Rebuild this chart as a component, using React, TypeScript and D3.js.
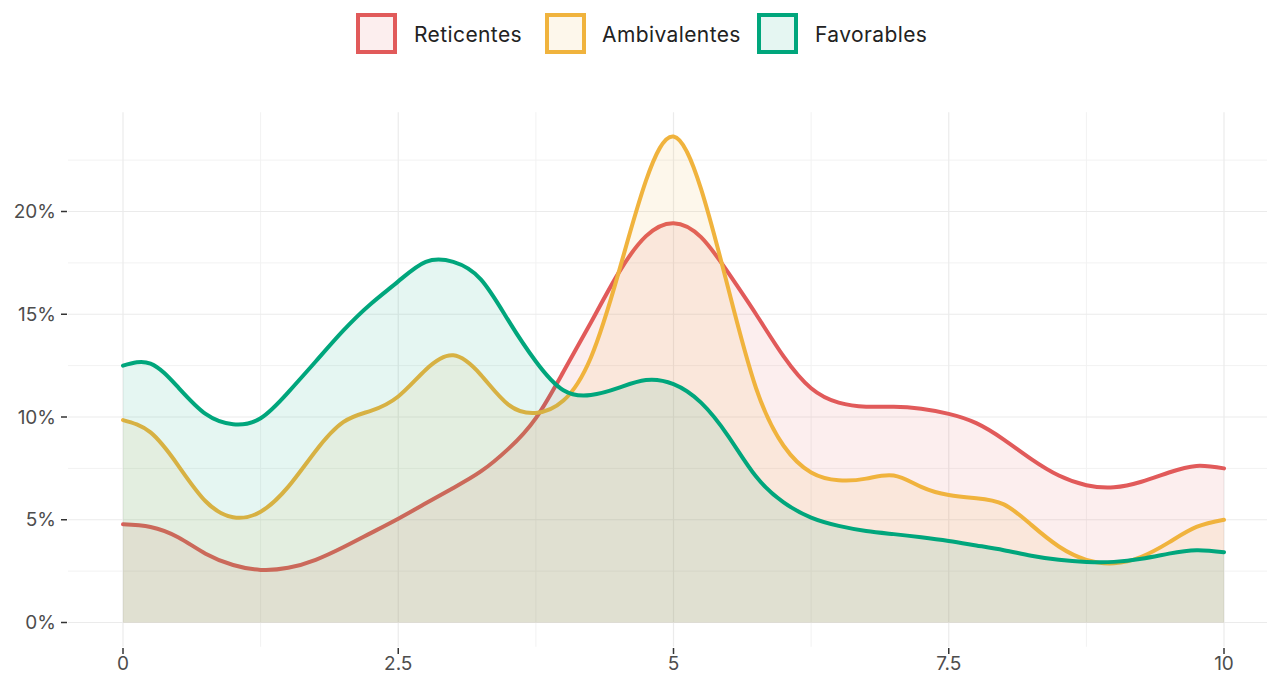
import React from "react";
import * as d3 from "d3";

const xGrid = [0,0.25,0.5,0.75,1,1.25,1.5,1.75,2,2.25,2.5,2.75,3,3.25,3.5,3.75,4,4.25,4.5,4.75,5,5.25,5.5,5.75,6,6.25,6.5,6.75,7,7.25,7.5,7.75,8,8.25,8.5,8.75,9,9.25,9.5,9.75,10];

const reticentes = [4.78,4.65,4.15,3.35,2.8,2.56,2.66,3.05,3.66,4.35,5.05,5.8,6.55,7.35,8.45,9.95,12.2,14.6,17.0,18.8,19.43,18.75,17.0,15.0,12.95,11.4,10.7,10.5,10.5,10.4,10.15,9.7,8.9,7.95,7.15,6.68,6.58,6.85,7.3,7.62,7.5];
const ambivalentes = [9.85,9.25,7.65,5.9,5.12,5.39,6.6,8.35,9.75,10.3,11.0,12.3,13.0,12.05,10.6,10.2,10.8,12.9,17.0,21.5,23.65,21.1,16.2,11.4,8.6,7.3,6.92,7.0,7.15,6.6,6.2,6.05,5.75,4.75,3.7,3.05,2.88,3.2,3.9,4.65,5.0];
const favorables = [12.5,12.6,11.45,10.15,9.65,9.94,11.2,12.7,14.2,15.5,16.6,17.55,17.55,16.7,14.7,12.7,11.3,11.07,11.42,11.8,11.6,10.7,9.05,7.1,5.85,5.1,4.7,4.45,4.3,4.15,3.97,3.75,3.52,3.25,3.05,2.95,2.95,3.1,3.35,3.52,3.42];

const seriesNames = ["Reticentes", "Ambivalentes", "Favorables"];
const seriesColors = ["#E15A5A", "#F0B33D", "#00A67C"];
const seriesValues = [reticentes, ambivalentes, favorables];

const xTicks = [0, 2.5, 5, 7.5, 10];
const xMinor = [1.25, 3.75, 6.25, 8.75];
const yTicks = [0, 5, 10, 15, 20];
const yMinor = [2.5, 7.5, 12.5, 17.5, 22.5];

const W = 1267;
const H = 674;
const FONT = "Inter, 'Open Sans', sans-serif";

export default function App() {
  const yMaxData = d3.max(seriesValues.flat()) as number;
  const x = d3.scaleLinear().domain([0, 10]).range([123, 1224]);
  const y = d3.scaleLinear().domain([0, 20]).range([622.5, 211.5]);
  const panelLeft = x(-0.5);
  const panelRight = x(10.5);
  const panelTop = y(yMaxData * 1.05);
  const panelBottom = y(-yMaxData * 0.05);

  const area = d3
    .area<number>()
    .x((_, i) => x(xGrid[i]))
    .y0(() => y(0))
    .y1((d) => y(d))
    .curve(d3.curveNatural);
  const line = d3
    .line<number>()
    .x((_, i) => x(xGrid[i]))
    .y((d) => y(d))
    .curve(d3.curveNatural);

  const legendItems = [
    { box: 356, text: 414 },
    { box: 545, text: 602 },
    { box: 757, text: 815 },
  ];

  return (
    <svg width={W} height={H} style={{ position: "absolute", left: 0, top: 0, background: "#fff" }}>
      <g>
        {yMinor.map((v) => (
          <line key={"ym" + v} x1={panelLeft} x2={panelRight} y1={y(v)} y2={y(v)} stroke="#F2F2F2" strokeWidth={1} />
        ))}
        {xMinor.map((v) => (
          <line key={"xm" + v} x1={x(v)} x2={x(v)} y1={panelTop} y2={panelBottom} stroke="#F2F2F2" strokeWidth={1} />
        ))}
        {yTicks.map((v) => (
          <line key={"yM" + v} x1={panelLeft} x2={panelRight} y1={y(v)} y2={y(v)} stroke="#EBEBEB" strokeWidth={1.2} />
        ))}
        {xTicks.map((v) => (
          <line key={"xM" + v} x1={x(v)} x2={x(v)} y1={panelTop} y2={panelBottom} stroke="#EBEBEB" strokeWidth={1.2} />
        ))}
      </g>
      {seriesValues.map((vals, i) => (
        <g key={seriesNames[i]}>
          <path d={area(vals) || ""} fill={seriesColors[i]} fillOpacity={0.1} stroke="none" />
          <path d={line(vals) || ""} fill="none" stroke={seriesColors[i]} strokeWidth={4} strokeLinecap="round" />
        </g>
      ))}
      <g fontFamily={FONT} fontSize={19} fill="#4D4D4D">
        {yTicks.map((v) => (
          <g key={"yt" + v}>
            <line x1={61} x2={67} y1={y(v)} y2={y(v)} stroke="#333" strokeWidth={1.5} />
            <text x={56} y={y(v)} textAnchor="end" dominantBaseline="central">
              {v + "%"}
            </text>
          </g>
        ))}
        {xTicks.map((v) => (
          <g key={"xt" + v}>
            <line x1={x(v)} x2={x(v)} y1={648} y2={654} stroke="#333" strokeWidth={1.5} />
            <text x={x(v)} y={663} textAnchor="middle" dominantBaseline="central">
              {String(v)}
            </text>
          </g>
        ))}
      </g>
      <g fontFamily={FONT} fontSize={21} fill="#222" letterSpacing={0.4}>
        {seriesNames.map((n, i) => (
          <g key={"lg" + n}>
            <rect
              x={legendItems[i].box + 2}
              y={15}
              width={37}
              height={37}
              fill={seriesColors[i]}
              fillOpacity={0.1}
              stroke={seriesColors[i]}
              strokeWidth={4}
            />
            <text x={legendItems[i].text} y={34} dominantBaseline="central">
              {n}
            </text>
          </g>
        ))}
      </g>
    </svg>
  );
}
